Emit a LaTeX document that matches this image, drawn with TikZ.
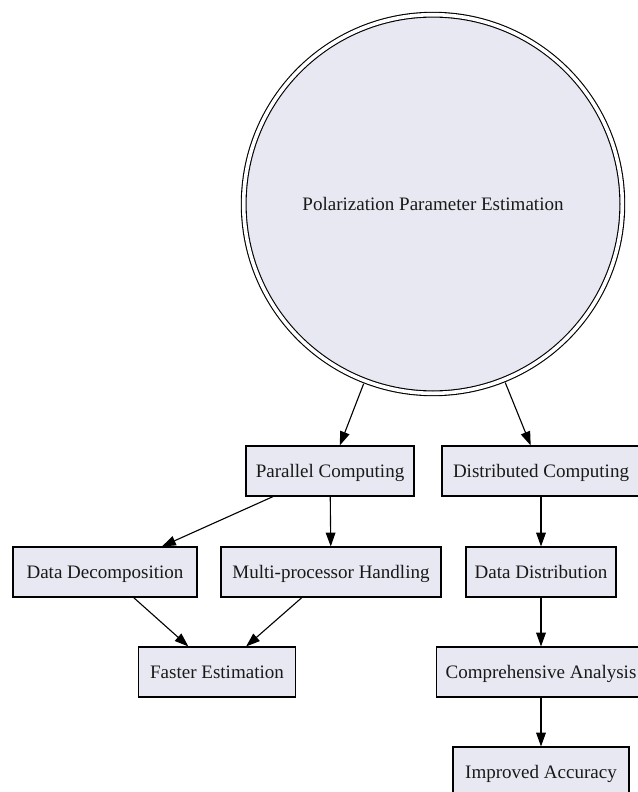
\documentclass[tikz,border=0pt]{standalone}
\usepackage{fontspec}
\setmainfont{Liberation Serif}
\usetikzlibrary{arrows.meta}
\definecolor{nodefill}{HTML}{E8E8F2}
\begin{document}
\begin{tikzpicture}[x=0.72pt,y=-0.72pt,
  every node/.style={font=\fontsize{13.7}{16}\selectfont, text=black!90, text height=12pt, text depth=3pt},
  boxnode/.style={draw, line width=0.8pt, fill=nodefill, rectangle, minimum height=36pt, inner sep=0pt},
  bigcircle/.style={circle, draw, line width=0.8pt, double=white, double distance=2.6pt, fill=nodefill, minimum size=272.6pt, inner sep=0pt},
  edge/.style={-{Triangle[length=10pt,width=7pt]}, line width=0.8pt}
]
\useasboundingbox (0,0) rectangle (638,792);
\node[bigcircle] (pol) at (433,204) {Polarization Parameter Estimation};
\node[boxnode, minimum width=121pt] (par) at (330,471) {Parallel Computing};
\node[boxnode, minimum width=142.6pt] (dist) at (541,471) {Distributed Computing};
\node[boxnode, minimum width=132.5pt] (dec) at (105,572) {Data Decomposition};
\node[boxnode, minimum width=158.4pt] (multi) at (331,572) {Multi-processor Handling};
\node[boxnode, minimum width=108pt] (ddist) at (541,572) {Data Distribution};
\node[boxnode, minimum width=113pt] (fast) at (217,672) {Faster Estimation};
\node[boxnode, minimum width=151pt] (comp) at (541,672) {Comprehensive Analysis};
\node[boxnode, minimum width=126.7pt] (imp) at (541,772) {Improved Accuracy};
\draw[edge, shorten <=2pt] (pol) -- (par);
\draw[edge, shorten <=2pt] (pol) -- (dist);
\draw[edge] (par) -- (dec);
\draw[edge] (par) -- (multi);
\draw[edge] (dec) -- (fast);
\draw[edge] (multi) -- (fast);
\draw[edge] (dist) -- (ddist);
\draw[edge] (ddist) -- (comp);
\draw[edge] (comp) -- (imp);
\end{tikzpicture}
\end{document}
